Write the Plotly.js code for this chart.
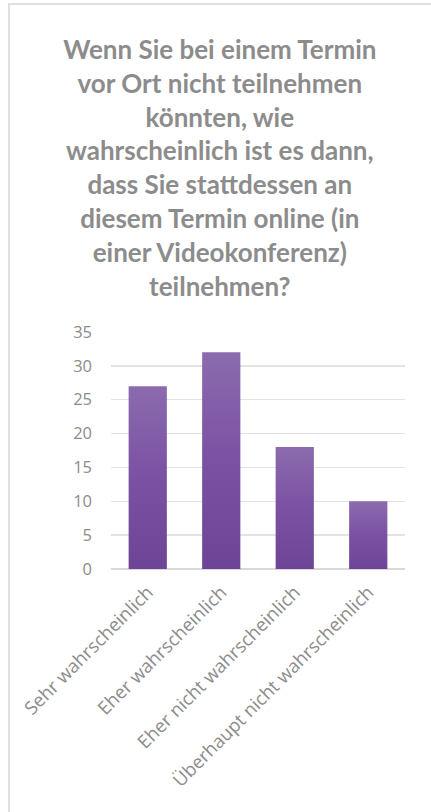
<!DOCTYPE html>
<html>
<head>
<meta charset="utf-8">
<script src="https://cdn.plot.ly/plotly-3.0.1.min.js"></script>
<style>
  html, body { margin: 0; padding: 0; background: #ffffff; }
  #wrap { position: relative; width: 431px; height: 812px; overflow: hidden; }
  #chart { position: absolute; left: 0; top: 0; width: 431px; height: 812px; }
  #frame { position: absolute; left: 8px; top: 3px; width: 440px; height: 840px;
           border-left: 2px solid #e0e0e0; border-top: 2px solid #e0e0e0; pointer-events: none; }
</style>
</head>
<body>
<div id="wrap">
  <div id="chart"></div>
  <div id="frame"></div>
</div>
<script>
const titleText = "Wenn Sie bei einem Termin<br>vor Ort nicht teilnehmen<br>könnten, wie<br>wahrscheinlich ist es dann,<br>dass Sie stattdessen an<br>diesem Termin online (in<br>einer Videokonferenz)<br>teilnehmen?";
const categories = ["Sehr wahrscheinlich", "Eher wahrscheinlich", "Eher nicht wahrscheinlich", "Überhaupt nicht wahrscheinlich"];
const values = [27, 32, 18, 10];
const yTicks = [0, 5, 10, 15, 20, 25, 30, 35];

const fontFam = "'Open Sans', 'Noto Sans', sans-serif";
const titleFam = "Lato, 'Open Sans', sans-serif";
const gray = "#8c8c8c";

const data = [{
  type: "bar",
  x: categories,
  y: values,
  marker: { color: "#7c54a4", line: { width: 0 } },
  hoverinfo: "none"
}];

const layout = {
  width: 431,
  height: 812,
  paper_bgcolor: "rgba(0,0,0,0)",
  plot_bgcolor: "rgba(0,0,0,0)",
  margin: { l: 111, r: 26, t: 332, b: 243, pad: 0 },
  showlegend: false,
  bargap: 0.48,
  title: {
    text: titleText,
    xref: "container", yref: "container",
    x: 0.51, xanchor: "center",
    y: 1 - 59 / 812, yanchor: "top",
    font: { family: titleFam, size: 26, color: gray, weight: "bold" }
  },
  xaxis: {
    type: "category",
    tickangle: -45,
    showgrid: false,
    showline: false,
    ticks: "",
    zeroline: false,
    tickfont: { family: fontFam, size: 18.5, color: gray },
    ticklabelstandoff: 8,
    fixedrange: true
  },
  yaxis: {
    range: [0, 35],
    tickvals: yTicks,
    ticktext: yTicks.map(String),
    showgrid: true,
    gridcolor: "#e3e3e3",
    gridwidth: 1.5,
    zeroline: true,
    zerolinecolor: "#d9d9d9",
    zerolinewidth: 1.5,
    showline: false,
    ticks: "",
    tickfont: { family: fontFam, size: 16.5, color: gray },
    ticklabelstandoff: 18,
    fixedrange: true
  }
};

Plotly.newPlot("chart", data, layout, { displayModeBar: false, staticPlot: true }).then(function (gd) {
  const svg = gd.querySelector("svg.main-svg");
  const ns = "http://www.w3.org/2000/svg";
  let defs = svg.querySelector("defs");
  if (!defs) { defs = document.createElementNS(ns, "defs"); svg.insertBefore(defs, svg.firstChild); }
  const grad = document.createElementNS(ns, "linearGradient");
  grad.setAttribute("id", "barGrad");
  grad.setAttribute("x1", "0"); grad.setAttribute("y1", "0");
  grad.setAttribute("x2", "0"); grad.setAttribute("y2", "1");
  const stops = [["0", "#8b6bae"], ["0.5", "#7b51a3"], ["1", "#6e4497"]];
  stops.forEach(function (s) {
    const st = document.createElementNS(ns, "stop");
    st.setAttribute("offset", s[0]); st.setAttribute("stop-color", s[1]);
    grad.appendChild(st);
  });
  defs.appendChild(grad);
  gd.querySelectorAll(".bars .point path").forEach(function (p) {
    p.style.fill = "url(#barGrad)";
  });
});
</script>
</body>
</html>
